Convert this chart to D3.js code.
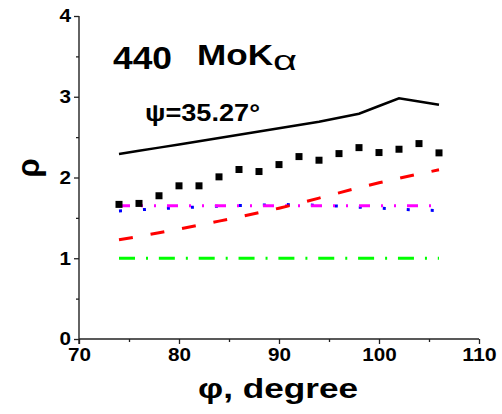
<!DOCTYPE html>
<html><head><meta charset="utf-8">
<script src="https://cdn.jsdelivr.net/npm/d3@7"></script>
<style>
html,body{margin:0;padding:0;background:#fff;}
text{font-family:"Liberation Sans",Arial,sans-serif;}
</style></head>
<body><svg id="c" width="502" height="414"></svg>
<script>
const phi = [74,76,78,80,82,84,86,88,90,92,94,96,98,100,102,104,106];
const blackLine = [2.29,2.33,2.37,2.41,2.45,2.49,2.53,2.57,2.61,2.65,2.69,2.74,2.79,2.885,2.98,2.94,2.90];
const squares = [1.667,1.679,1.774,1.897,1.897,2.008,2.099,2.074,2.16,2.259,2.214,2.296,2.37,2.309,2.35,2.42,2.305];
const redLine = [1.23,1.27,1.315,1.36,1.41,1.46,1.51,1.565,1.62,1.68,1.745,1.81,1.875,1.935,1.99,2.045,2.095];
const magentaLine = [1.65,1.65,1.65,1.65,1.65,1.65,1.65,1.65,1.65,1.65,1.65,1.65,1.65,1.65,1.65,1.65,1.65];
const blueLine = [1.585,1.60,1.615,1.625,1.635,1.645,1.652,1.658,1.665,1.663,1.655,1.645,1.633,1.622,1.608,1.597,1.59];
const greenLine = [1,1,1,1,1,1,1,1,1,1,1,1,1,1,1,1,1];
const xTicks = [70,80,90,100,110];
const yTicks = [0,1,2,3,4];

const svg = d3.select("#c");
const x = d3.scaleLinear().domain([70,110]).range([79,479]);
const y = d3.scaleLinear().domain([0,4]).range([339,16]);

function fit(sel, per){
  sel.each(function(){ const t=this.textContent; d3.select(this).attr("textLength", t.length*per).attr("lengthAdjust","spacingAndGlyphs"); });
}

// axes
const gx = svg.append("g").attr("transform","translate(0,339)")
  .call(d3.axisBottom(x).tickValues(xTicks).tickSize(5).tickPadding(4).tickFormat(d3.format("d")));
const gxm = svg.append("g").attr("transform","translate(0,339)")
  .call(d3.axisBottom(x).tickValues([75,85,95,105]).tickSize(3).tickFormat(""));
const gy = svg.append("g").attr("transform","translate(79,0)")
  .call(d3.axisLeft(y).tickValues(yTicks).tickSize(5).tickPadding(3).tickFormat(d3.format("d")));
const gym = svg.append("g").attr("transform","translate(79,0)")
  .call(d3.axisLeft(y).tickValues([0.5,1.5,2.5,3.5]).tickSize(3).tickFormat(""));
[gx,gxm,gy,gym].forEach(g=>{
  g.select(".domain").attr("stroke","#222").attr("stroke-width",1.4);
  g.selectAll(".tick line").attr("stroke","#222").attr("stroke-width",1.3);
});
gxm.select(".domain").remove(); gym.select(".domain").remove();
gy.select(".domain").attr("d","M0,"+y(4)+"V"+(y(0)+5));
gx.select(".domain").attr("d","M"+x(70)+",0H"+x(110));
gx.selectAll(".tick text").attr("font-size",18).attr("font-weight","bold").attr("fill","#000")
  .attr("font-family","Liberation Sans, Arial, sans-serif").call(fit,11.5);
gy.selectAll(".tick text").attr("font-size",18).attr("font-weight","bold").attr("fill","#000")
  .attr("font-family","Liberation Sans, Arial, sans-serif").call(fit,11.5);

const line = d3.line().x((d,i)=>x(phi[i])).y(d=>y(d));

function series(data, color, w, dash){
  const p = svg.append("path").datum(data).attr("d",line).attr("fill","none")
    .attr("stroke",color).attr("stroke-width",w);
  if(dash) p.attr("stroke-dasharray",dash);
  return p;
}
series(greenLine,"#00ff00",3,"16,11,2,10.85");
series(blueLine,"#0000ff",3,"3,21");
series(magentaLine,"#ff00ff",3,"11,11,2,11,2,11");
series(redLine,"#ff0000",3,"14,18");
series(blackLine,"#000",2.5,null);

svg.append("g").selectAll("rect").data(squares).join("rect")
  .attr("x",(d,i)=>x(phi[i])-3.5).attr("y",d=>y(d)-3.5)
  .attr("width",7).attr("height",7).attr("fill","#000");

// labels
svg.append("text").attr("x",113).attr("y",69).attr("font-size",32).attr("font-weight","bold")
  .attr("textLength",59).attr("lengthAdjust","spacingAndGlyphs").text("440");
svg.append("text").attr("x",197).attr("y",65).attr("font-size",30).attr("font-weight","bold")
  .attr("textLength",76).attr("lengthAdjust","spacingAndGlyphs").text("MoK");
svg.append("text").attr("x",273).attr("y",70).attr("font-size",28)
  .attr("font-family","DejaVu Sans, sans-serif")
  .attr("textLength",24).attr("lengthAdjust","spacingAndGlyphs").text("α");
svg.append("text").attr("x",145).attr("y",121).attr("font-size",23).attr("font-weight","bold")
  .attr("textLength",115).attr("lengthAdjust","spacingAndGlyphs").text("ψ=35.27°");
svg.append("text").attr("x",198).attr("y",398).attr("font-size",28).attr("font-weight","bold")
  .attr("textLength",160).attr("lengthAdjust","spacingAndGlyphs").text("φ, degree");
svg.append("text").attr("transform","translate(39,168) rotate(-90)").attr("text-anchor","middle")
  .attr("font-size",31).attr("font-weight","bold").text("ρ");
</script></body></html>
